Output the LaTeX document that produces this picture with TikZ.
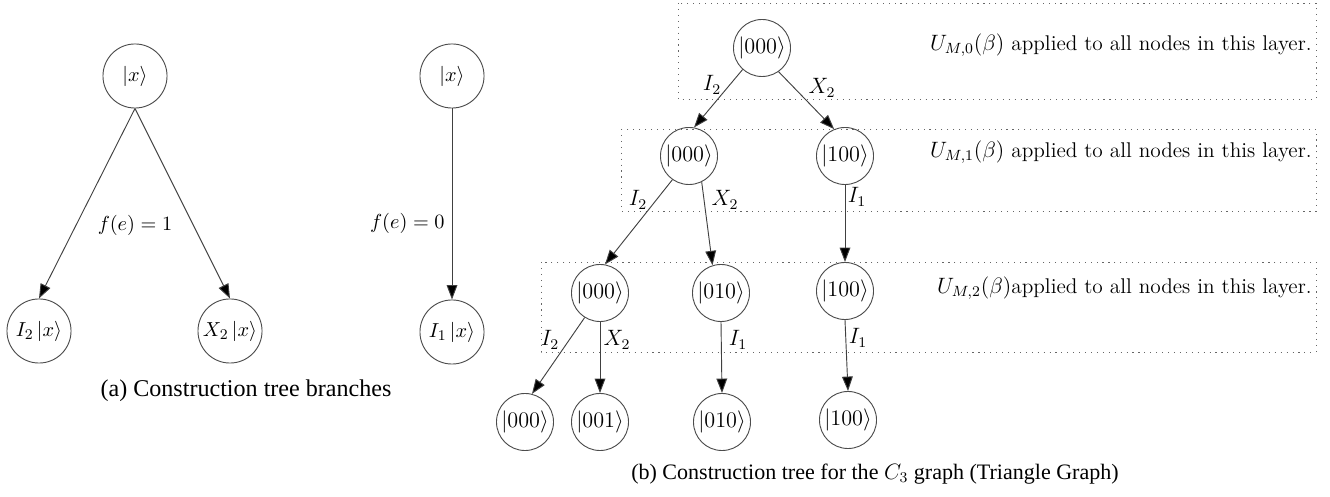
\documentclass[tikz,border=0pt]{standalone}
\usepackage{fontspec}
\newfontfamily\capfont{Liberation Serif}
\usetikzlibrary{arrows.meta}
\begin{document}
\begin{tikzpicture}[x=0.54pt,y=-0.54pt,
  lnode/.style={circle,draw=black!70,line width=0.5pt,inner sep=0pt,minimum size=34.6pt,font=\fontsize{11.3}{13}\selectfont},
  rnode/.style={circle,draw=black!70,line width=0.5pt,inner sep=0pt,minimum size=30.8pt,font=\fontsize{11.5}{14}\selectfont},
  edge/.style={draw=black!75,line width=0.5pt,-{Triangle[length=7.8pt,width=5.8pt,fill=black]}},
  lab/.style={inner sep=0pt,font=\fontsize{11.5}{14}\selectfont},
  llab/.style={inner sep=0pt,font=\fontsize{10.8}{13}\selectfont},
  layer/.style={draw=black!60,line width=0.5pt,dash pattern=on 0.6pt off 2.6pt},
  layertext/.style={anchor=east,inner sep=0pt,font=\fontsize{11.5}{14}\selectfont}]
\useasboundingbox (0,0) rectangle (1330,497);

% ---------- (a) ----------
\node[lnode] (ax) at (135,76) {$|x\rangle$};
\node[lnode] (ai) at (39,331) {$I_2\,|x\rangle$};
\node[lnode] (aX) at (230,331) {$X_2\,|x\rangle$};
\node[lnode] (bx) at (452,76) {$|x\rangle$};
\node[lnode] (bi) at (452,332) {$I_1\,|x\rangle$};
\draw[edge] (ax.south) -- (ai.north);
\draw[edge] (ax.south) -- (aX.north);
\draw[edge] (bx.south) -- (bi.north);
\node[llab] (f1) at (135,225) {$f(e)=1$};
\node[llab,anchor=east] (f0) at (445,223) {$f(e)=0$};
\node[inner sep=0pt,font=\capfont\fontsize{13}{15}\selectfont] (capa) at (246,391) {(a) Construction tree branches};

% ---------- (b) layers ----------
\draw[layer] (678,3) rectangle (1316,99);
\draw[layer] (621,129) rectangle (1316,211);
\draw[layer] (541,262) rectangle (1316,352);
\node[layertext] (t0) at (1312,45) {$U_{M,0}(\beta)$ applied to all nodes in this layer.};
\node[layertext] (t1) at (1312,152) {$U_{M,1}(\beta)$ applied to all nodes in this layer.};
\node[layertext] (t2) at (1312,288) {$U_{M,2}(\beta)$applied to all nodes in this layer.};

% ---------- (b) nodes ----------
\node[rnode] (r) at (762,48) {$|000\rangle$};
\node[rnode] (a1) at (689,156) {$|000\rangle$};
\node[rnode] (b1) at (845,156) {$|100\rangle$};
\node[rnode] (a2) at (600,293) {$|000\rangle$};
\node[rnode] (b2) at (721,293) {$|010\rangle$};
\node[rnode] (c2) at (845,291) {$|100\rangle$};
\node[rnode] (a3) at (525,422) {$|000\rangle$};
\node[rnode] (b3) at (600,422) {$|001\rangle$};
\node[rnode] (c3) at (722,422) {$|010\rangle$};
\node[rnode] (d3) at (848,420) {$|100\rangle$};

\draw[edge] (r.-132) -- (a1.80);
\draw[edge] (r.-55) -- (b1.112);
\draw[edge] (a1.-125) -- (a2.80);
\draw[edge] (a1.-64) -- (b2.107);
\draw[edge] (b1.south) -- (c2.north);
\draw[edge] (a2.-122) -- (a3.76);
\draw[edge] (a2.south) -- (b3.north);
\draw[edge] (b2.south) -- (c3.north);
\draw[edge] (c2.south) -- (d3.north);

\node[lab] (l1) at (712,85) {$I_2$};
\node[lab] (l2) at (822,88) {$X_2$};
\node[lab] (l3) at (638,200) {$I_2$};
\node[lab] (l4) at (725,200) {$X_2$};
\node[lab] (l5) at (857,197) {$I_1$};
\node[lab] (l6) at (550,340) {$I_2$};
\node[lab] (l7) at (617,340) {$X_2$};
\node[lab] (l8) at (738,340) {$I_1$};
\node[lab] (l9) at (858,338) {$I_1$};

\node[inner sep=0pt,font=\capfont\fontsize{11.9}{14}\selectfont] (capb) at (875,474) {(b) Construction tree for the $C_3$ graph (Triangle Graph)};
\end{tikzpicture}
\end{document}
